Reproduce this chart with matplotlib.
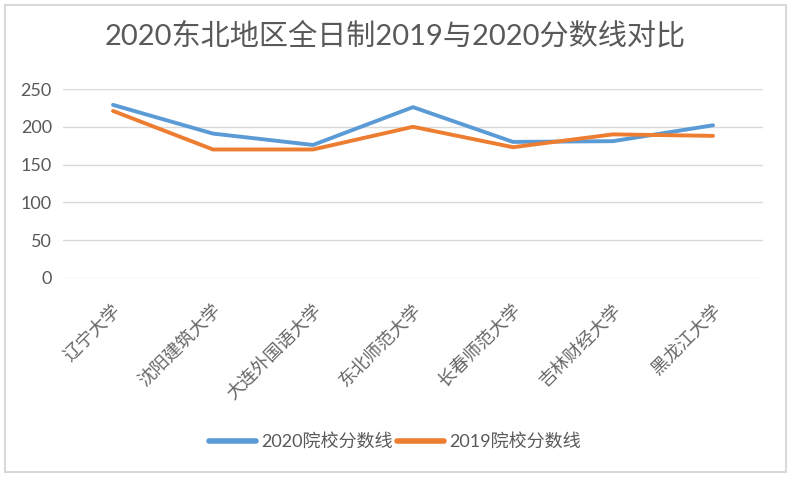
import matplotlib
matplotlib.use("Agg")
import matplotlib.pyplot as plt
from matplotlib.patches import Rectangle
from matplotlib.transforms import ScaledTranslation

plt.rcParams['font.family'] = ['Lato', 'Noto Sans CJK SC', 'DejaVu Sans']

title = "2020东北地区全日制2019与2020分数线对比"
schools = ["辽宁大学", "沈阳建筑大学", "大连外国语大学", "东北师范大学",
           "长春师范大学", "吉林财经大学", "黑龙江大学"]
scores_2020 = [229, 191, 176, 226, 180, 181, 202]
scores_2019 = [221, 170, 170, 200, 173, 190, 188]
series_names = ["2020院校分数线", "2019院校分数线"]
yticks = [0, 50, 100, 150, 200, 250]

W, H = 796, 480
fig = plt.figure(figsize=(W / 100, H / 100), dpi=100)
fig.patch.set_facecolor("white")

# outer chart border
fig.patches.append(Rectangle((5 / W, 1 - 472 / H), 781 / W, 467 / H,
                             transform=fig.transFigure, fill=False,
                             edgecolor="#D9D9D9", linewidth=1.5))

ax = fig.add_axes([63 / W, 1 - 278 / H, 700 / W, 189 / H])
x = list(range(len(schools)))
ax.plot(x, scores_2020, color="#5B9BD5", linewidth=2.8, label=series_names[0],
        solid_capstyle="round", solid_joinstyle="round")
ax.plot(x, scores_2019, color="#ED7D31", linewidth=2.8, label=series_names[1],
        solid_capstyle="round", solid_joinstyle="round")

ax.set_xlim(-0.5, len(schools) - 0.5)
ax.set_ylim(0, 250)
ax.set_yticks(yticks)
ax.yaxis.grid(True, color="#D9D9D9", linewidth=1.0)
ax.set_axisbelow(True)
for s in ax.spines.values():
    s.set_visible(False)

ax.tick_params(axis="y", length=0, pad=8, labelsize=13, labelcolor="#595959")
ax.set_xticks(x)
ax.set_xticklabels(schools, rotation=45, ha="right", va="center",
                   rotation_mode="anchor", fontsize=13, color="#666666")
ax.tick_params(axis="x", length=0, pad=21)
off = ScaledTranslation(5 / 100, 0, fig.dpi_scale_trans)
for lbl in ax.get_xticklabels():
    lbl.set_transform(lbl.get_transform() + off)

fig.text(395 / W, 1 - 36 / H, title, ha="center", va="center",
         fontsize=21, color="#595959")

leg = fig.legend(loc="center", bbox_to_anchor=(395 / W, 1 - 442 / H), ncol=2,
                 frameon=False, fontsize=13, handlelength=2.6,
                 handletextpad=0.3, columnspacing=0.25, labelcolor="#595959")
for line in leg.get_lines():
    line.set_linewidth(4)

fig.savefig("out.png", dpi=100, facecolor="white")
